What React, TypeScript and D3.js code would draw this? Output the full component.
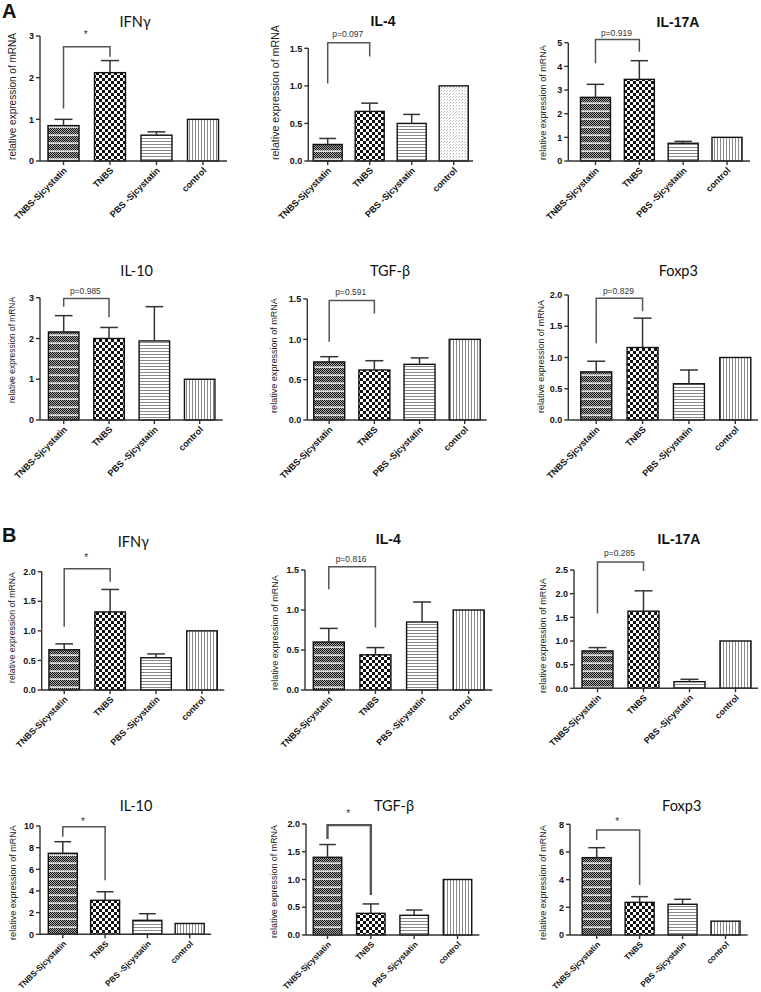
import React from "react";
import * as d3 from "d3";

// ---------- DATA ----------
const categories = ["TNBS-Sjcystatin", "TNBS", "PBS -Sjcystatin", "control"];
const sectionLetters = ["A", "B"];
const titles = ["IFNγ", "IL-4", "IL-17A", "IL-10", "TGF-β", "Foxp3", "IFNγ", "IL-4", "IL-17A", "IL-10", "TGF-β", "Foxp3"];
const yLabel = "relative expression of mRNA";

const means = [
  [0.85, 2.12, 0.62, 1.0],
  [0.22, 0.66, 0.5, 1.0],
  [2.69, 3.45, 0.75, 1.0],
  [2.16, 2.0, 1.94, 1.0],
  [0.72, 0.62, 0.69, 1.0],
  [0.77, 1.16, 0.58, 1.0],
  [0.68, 1.32, 0.545, 1.0],
  [0.6, 0.44, 0.85, 1.0],
  [0.79, 1.63, 0.14, 1.0],
  [7.48, 3.14, 1.29, 1.0],
  [1.4, 0.39, 0.355, 1.0],
  [5.59, 2.36, 2.22, 1.0],
];
const sems = [
  [0.15, 0.29, 0.08, 0],
  [0.08, 0.11, 0.12, 0],
  [0.55, 0.79, 0.08, 0],
  [0.4, 0.27, 0.84, 0],
  [0.065, 0.115, 0.08, 0],
  [0.17, 0.47, 0.22, 0],
  [0.1, 0.38, 0.065, 0],
  [0.17, 0.09, 0.25, 0],
  [0.07, 0.43, 0.05, 0],
  [1.07, 0.79, 0.61, 0],
  [0.23, 0.17, 0.095, 0],
  [0.72, 0.41, 0.36, 0],
];
const yMaxes = [3, 1.5, 5, 3, 1.5, 2, 2, 1.5, 2.5, 10, 2, 8];
const tickSteps = [1, 0.5, 1, 1, 0.5, 0.5, 0.5, 0.5, 0.5, 2, 0.5, 2];
const tickDecimals = [0, 1, 0, 0, 1, 1, 1, 1, 1, 0, 1, 0];
const sigLabels = ["*", "p=0.097", "p=0.919", "p=0.985", "p=0.591", "p=0.829", "*", "p=0.816", "p=0.285", "*", "*", "*"];
// bracket: top value, left-leg bottom value, right-leg bottom value
const bracketTop = [2.74, 1.575, 5.14, 2.98, 1.48, 1.95, 2.05, 1.54, 2.67, 9.93, 1.98, 7.59];
const bracketLeft = [1.26, 1.03, 4.13, 2.78, 0.97, 1.23, 1.07, 1.26, 1.58, 9.0, 1.73, 6.87];
const bracketRight = [2.5, 1.39, 4.62, 2.52, 1.32, 1.74, 1.83, 0.78, 2.48, 5.0, 0.72, 3.62];

// ---------- LAYOUT / STYLE ----------
type L = {
  ax: number; axEnd: number; c0: number; c3: number; yTop: number; y0: number; bw: number;
  tx: number; ty: number; annY: number; labTop: number; labBot: number; labX: number; xFs: number;
};
const layouts: L[] = [
  { ax: 40, axEnd: 227, c0: 63.5, c3: 203, yTop: 36, y0: 161, bw: 31, tx: 135, ty: 26.5, annY: 37.5, labTop: 33, labBot: 160, labX: 12, xFs: 9 },
  { ax: 308.3, axEnd: 473, c0: 327.7, c3: 453.7, yTop: 48.3, y0: 161, bw: 29, tx: 383, ty: 26, annY: 36.5, labTop: 25, labBot: 160, labX: 275, xFs: 9 },
  { ax: 568.3, axEnd: 750, c0: 595.5, c3: 727, yTop: 42.7, y0: 161, bw: 30, tx: 678, ty: 26.7, annY: 36, labTop: 45, labBot: 160, labX: 542.7, xFs: 9 },
  { ax: 40, axEnd: 222.7, c0: 63.7, c3: 199.7, yTop: 297.7, y0: 420, bw: 30.5, tx: 136.7, ty: 276, annY: 294, labTop: 297, labBot: 403, labX: 12.3, xFs: 9 },
  { ax: 307.3, axEnd: 486.7, c0: 329.2, c3: 464.7, yTop: 299, y0: 420, bw: 31, tx: 390, ty: 276, annY: 295, labTop: 298, labBot: 413, labX: 273.3, xFs: 9 },
  { ax: 568.3, axEnd: 758, c0: 596.2, c3: 735.3, yTop: 295, y0: 420, bw: 31, tx: 678.3, ty: 276, annY: 294, labTop: 300, labBot: 413, labX: 541, xFs: 9 },
  { ax: 41.7, axEnd: 224.3, c0: 64.2, c3: 202, yTop: 571.7, y0: 690, bw: 30.5, tx: 133.3, ty: 547, annY: 560.7, labTop: 572, labBot: 683, labX: 12.3, xFs: 8.8 },
  { ax: 305, axEnd: 492.3, c0: 328.8, c3: 468.7, yTop: 570, y0: 690, bw: 31, tx: 388.3, ty: 544, annY: 562, labTop: 575, labBot: 690, labX: 275, xFs: 8.8 },
  { ax: 574, axEnd: 758, c0: 597.5, c3: 735.5, yTop: 570, y0: 688.3, bw: 31, tx: 679, ty: 544, annY: 555.5, labTop: 578, labBot: 693, labX: 542.3, xFs: 8.8 },
  { ax: 40, axEnd: 211, c0: 62.8, c3: 189.7, yTop: 826, y0: 934.3, bw: 29, tx: 136, ty: 810.5, annY: 824.7, labTop: 825, labBot: 940, labX: 12.3, xFs: 8.2 },
  { ax: 306, axEnd: 479.3, c0: 327.5, c3: 457.5, yTop: 824, y0: 935, bw: 28.5, tx: 394, ty: 810.5, annY: 817.4, labTop: 825, labBot: 938, labX: 274, xFs: 8.2 },
  { ax: 570, axEnd: 747.7, c0: 596.7, c3: 725.5, yTop: 824.3, y0: 935, bw: 29, tx: 681.7, ty: 810.5, annY: 824.7, labTop: 825, labBot: 940, labX: 542.3, xFs: 8.2 },
];
const titleBold = [false, true, true, false, false, false, false, true, true, false, false, false];
const bracketWidths = [1.5, 1.5, 1.5, 1.5, 1.5, 1.5, 1.5, 1.5, 1.5, 1.5, 2.4, 1.5];
const controlFill = ["pV", "pDots", "pV", "pV", "pV", "pV", "pV", "pV", "pV", "pV", "pV", "pV"];
const letterPos = [{ x: 2, y: 18 }, { x: 2, y: 542 }];

const SANS = "'Liberation Sans', Arial, sans-serif";
const TITLE_FONT = "Lato, 'Open Sans', sans-serif";

function Patterns() {
  const sjRows: React.ReactNode[] = [];
  for (let y = 0; y < 6; y++) {
    sjRows.push(<rect key={"a" + y} x={y % 2} y={y} width={1} height={1} fill="#1a1a1a" />);
  }
  return (
    <defs>
      <pattern id="pSj" patternUnits="userSpaceOnUse" width={2} height={8}>
        <rect width={2} height={6} fill="#a0a0a0" />
        {sjRows}
        <rect y={6} width={2} height={2} fill="#dcdcdc" />
        <rect x={0} y={6} width={1} height={1} fill="#8a8a8a" />
      </pattern>
      <pattern id="pCheck" patternUnits="userSpaceOnUse" width={6} height={6}>
        <rect width={6} height={6} fill="#fff" />
        <rect x={0} y={0} width={3} height={3} fill="#111" />
        <rect x={3} y={3} width={3} height={3} fill="#111" />
      </pattern>
      <pattern id="pH" patternUnits="userSpaceOnUse" width={4} height={3}>
        <rect width={4} height={3} fill="#fff" />
        <rect y={0} width={4} height={1} fill="#8a8a8a" />
      </pattern>
      <pattern id="pV" patternUnits="userSpaceOnUse" width={3} height={4}>
        <rect width={3} height={4} fill="#fff" />
        <rect x={0} width={1} height={4} fill="#8a8a8a" />
      </pattern>
      <pattern id="pDots" patternUnits="userSpaceOnUse" width={3} height={3}>
        <rect width={3} height={3} fill="#fff" />
        <rect x={0} y={0} width={1} height={1} fill="#b5b5b5" />
        <rect x={2} y={1} width={1} height={1} fill="#cfcfcf" />
      </pattern>
    </defs>
  );
}

function Panel({ i }: { i: number }) {
  const lay = layouts[i];
  const y = d3.scaleLinear().domain([0, yMaxes[i]]).range([lay.y0, lay.yTop]);
  const step = (lay.c3 - lay.c0) / (categories.length - 1);
  const x = d3
    .scaleBand<string>()
    .domain(categories)
    .range([lay.c0 - step / 2, lay.c3 + step / 2])
    .paddingInner(1 - lay.bw / step)
    .paddingOuter((1 - lay.bw / step) / 2);
  const cx = (c: string) => (x(c) as number) + x.bandwidth() / 2;
  const ticks = d3.range(0, yMaxes[i] + tickSteps[i] / 2, tickSteps[i]);
  const fmt = d3.format(`.${tickDecimals[i]}f`);
  const fills = ["url(#pSj)", "url(#pCheck)", "url(#pH)", `url(#${controlFill[i]})`];
  const capW = x.bandwidth() * 0.58;
  const labFs = (lay.labBot - lay.labTop) / 12.67;
  const labCy = (lay.labTop + lay.labBot) / 2;
  const xL = cx(categories[0]);
  const xR = cx(categories[1]);
  const isStar = sigLabels[i] === "*";
  return (
    <g>
      <text
        x={lay.tx}
        y={lay.ty}
        textAnchor="middle"
        fontFamily={titleBold[i] ? SANS : TITLE_FONT}
        fontWeight={titleBold[i] ? 700 : 400}
        fontSize={titleBold[i] ? 14 : 14.5}
        fill="#111"
      >
        {titles[i]}
      </text>
      <text
        transform={`translate(${lay.labX + labFs * 0.36},${labCy}) rotate(-90)`}
        textAnchor="middle"
        fontFamily={SANS}
        fontSize={labFs}
        fill="#222"
      >
        {yLabel}
      </text>
      {/* bars */}
      {categories.map((c, k) => (
        <rect
          key={c}
          x={x(c)}
          y={y(means[i][k])}
          width={x.bandwidth()}
          height={lay.y0 - y(means[i][k])}
          fill={fills[k]}
          stroke="#111"
          strokeWidth={1.4}
        />
      ))}
      {/* error bars */}
      {categories.map((c, k) =>
        sems[i][k] > 0 ? (
          <g key={"e" + c} stroke="#333" strokeWidth={1.5}>
            <line x1={cx(c)} x2={cx(c)} y1={y(means[i][k])} y2={y(means[i][k] + sems[i][k])} />
            <line x1={cx(c) - capW / 2} x2={cx(c) + capW / 2} y1={y(means[i][k] + sems[i][k])} y2={y(means[i][k] + sems[i][k])} />
          </g>
        ) : null
      )}
      {/* axes */}
      <g stroke="#333" strokeWidth={1.4} fill="none">
        <line x1={lay.ax} x2={lay.ax} y1={lay.yTop} y2={lay.y0} />
        <line x1={lay.ax} x2={lay.axEnd} y1={lay.y0} y2={lay.y0} />
        {ticks.map((t) => (
          <line key={t} x1={lay.ax - 4} x2={lay.ax} y1={y(t)} y2={y(t)} />
        ))}
        {categories.map((c) => (
          <line key={c} x1={cx(c)} x2={cx(c)} y1={lay.y0} y2={lay.y0 + 4} />
        ))}
      </g>
      {ticks.map((t) => (
        <text
          key={"tl" + t}
          x={lay.ax - 6}
          y={y(t) + 3.2}
          textAnchor="end"
          fontFamily={SANS}
          fontWeight={700}
          fontSize={9}
          fill="#111"
        >
          {fmt(t)}
        </text>
      ))}
      {categories.map((c) => (
        <text
          key={"xl" + c}
          transform={`translate(${cx(c) + 4},${lay.y0 + 10}) rotate(-45)`}
          textAnchor="end"
          fontFamily={SANS}
          fontWeight={700}
          fontSize={lay.xFs}
          fill="#111"
        >
          {c}
        </text>
      ))}
      {/* significance bracket */}
      <path
        d={`M${xL},${y(bracketLeft[i])}V${y(bracketTop[i])}H${xR}V${y(bracketRight[i])}`}
        fill="none"
        stroke="#555"
        strokeWidth={bracketWidths[i]}
      />
      <text
        x={(xL + xR) / 2 - 1}
        y={lay.annY}
        textAnchor="middle"
        fontFamily={SANS}
        fontSize={isStar ? 10 : 8.5}
        fill="#333"
      >
        {sigLabels[i]}
      </text>
    </g>
  );
}

export default function App() {
  return (
    <div style={{ position: "absolute", left: 0, top: 0, width: 761, height: 992, background: "#fff" }}>
      <svg width={761} height={992} viewBox="0 0 761 992" style={{ display: "block" }}>
        <Patterns />
        <rect width={761} height={992} fill="#fff" />
        {sectionLetters.map((s, k) => (
          <text key={s} x={letterPos[k].x} y={letterPos[k].y} fontFamily={SANS} fontWeight={700} fontSize={20} fill="#111">
            {s}
          </text>
        ))}
        {titles.map((_, i) => (
          <Panel key={i} i={i} />
        ))}
      </svg>
    </div>
  );
}
